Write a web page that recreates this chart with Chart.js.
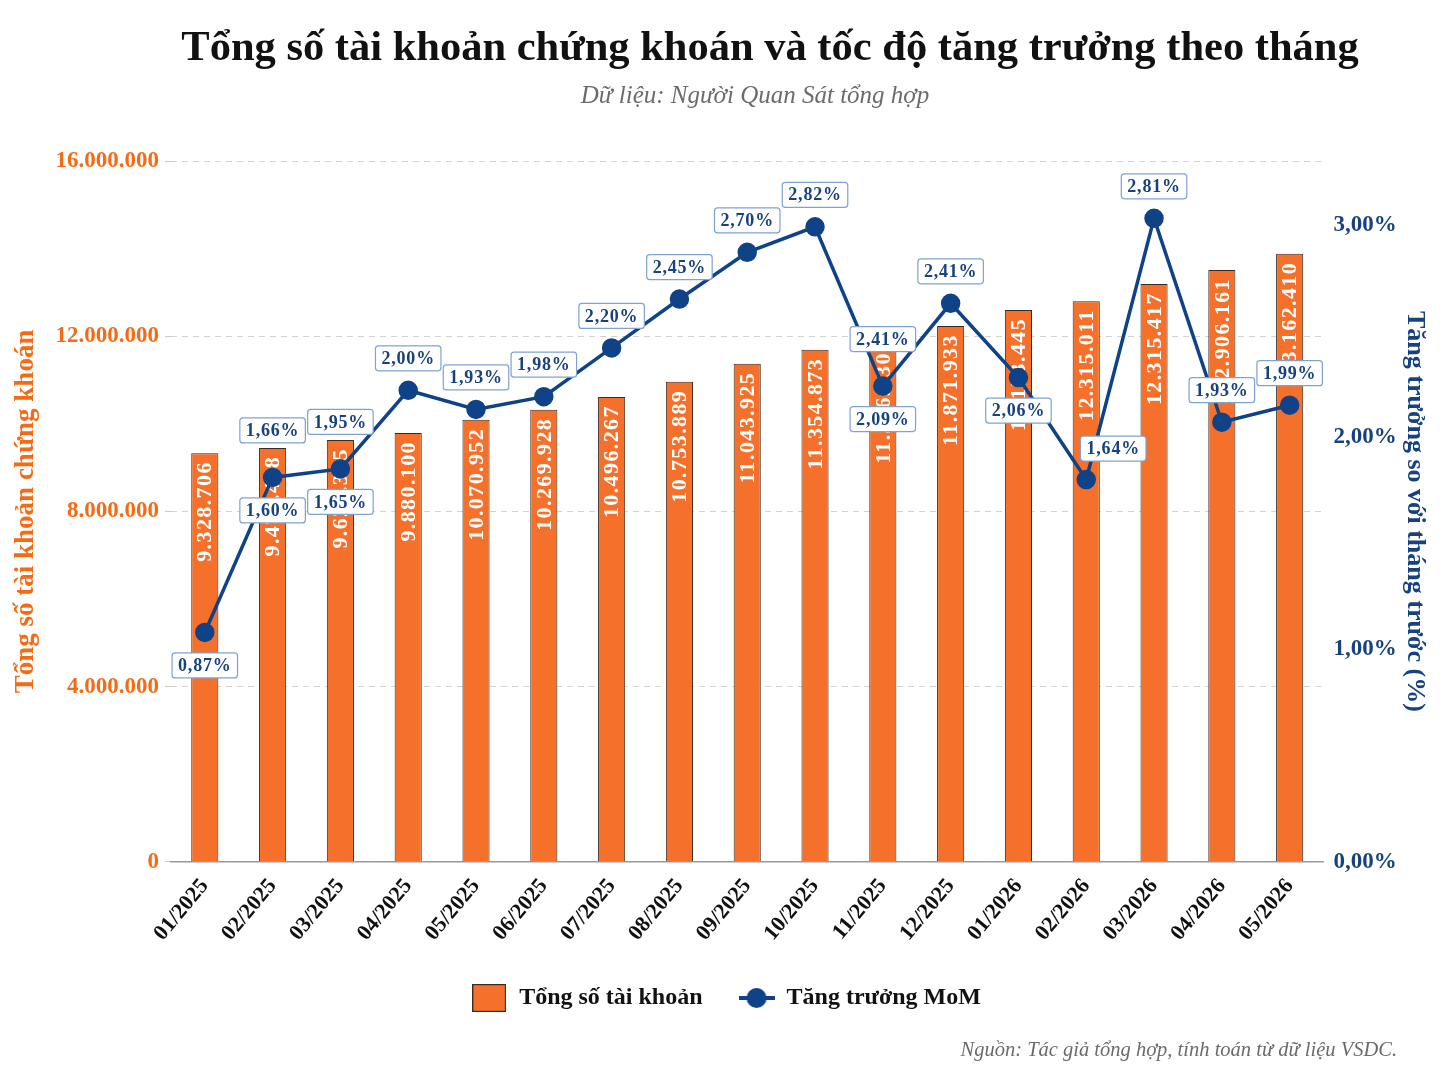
<!DOCTYPE html>
<html>
<head>
<meta charset="utf-8">
<script src="https://cdn.jsdelivr.net/npm/chart.js@4.4.1/dist/chart.umd.min.js"></script>
<style>
  html, body { margin: 0; padding: 0; background: #ffffff; }
  #wrap { width: 1448px; height: 1086px; position: relative; }
</style>
</head>
<body>
<div id="wrap"><canvas id="c" width="1448" height="1086"></canvas></div>
<script>
// ---------------- DATA ----------------
const categories = ['01/2025','02/2025','03/2025','04/2025','05/2025','06/2025','07/2025','08/2025','09/2025','10/2025','11/2025','12/2025','01/2026','02/2026','03/2026','04/2026','05/2026'];

const accountTotals = [9328706, 9450000, 9630000, 9790000, 10090000, 10320000, 10610000, 10960000, 11370000, 11690000, 11820000, 12230000, 12600000, 12800000, 13190000, 13510000, 13880000];

// Labels printed inside the bars (as shown in the picture)
const accountLabels = ['9.328.706','9.473.438','9.628.345','9.880.100','10.070.952','10.269.928','10.496.267','10.753.889','11.043.925','11.354.873','11.596.330','11.871.933','12.153.445','12.315.011','12.315.417','2.906.161','3.162.410'];

const growthMoM = [1.08, 1.81, 1.85, 2.22, 2.13, 2.19, 2.42, 2.65, 2.87, 2.99, 2.24, 2.63, 2.28, 1.80, 3.03, 2.07, 2.15];

// Labels printed next to the points (as shown in the picture)
const growthLabels = ['0,87%','1,60%','1,65%','2,00%','1,93%','1,98%','2,20%','2,45%','2,70%','2,82%','2,09%','2,41%','2,06%','1,64%','2,81%','1,93%','1,99%'];
const growthLabelsExtra = [null,'1,66%','1,95%',null,null,null,null,null,null,null,'2,41%',null,null,null,null,null,null];

// Left / right axis ranges and tick steps
const leftAxisMax = 16000000, leftAxisStep = 4000000;
const rightAxisMax = 3.3, rightAxisStep = 1;

// ---------------- STYLE ----------------
const SERIF = "'Liberation Serif','Times New Roman',serif";
const ORANGE = '#F5712B';
const ORANGE_TXT = '#F76A14';
const NAVY = '#0F4287';
const NAVY_TXT = '#17427E';
const labelPlacement = ['below','below','below','above','above','above','above','above','above','above','below','above','below','aboveRight','above','above','above'];

function fmtThousands(v) {
  return String(Math.round(v)).replace(/\B(?=(\d{3})+(?!\d))/g, '.');
}

function makeBoxIcon() {
  const c = document.createElement('canvas');
  c.width = 34; c.height = 28;
  const x = c.getContext('2d');
  x.fillStyle = ORANGE; x.fillRect(0, 0, 34, 28);
  x.strokeStyle = '#3b2a20'; x.lineWidth = 1.2; x.strokeRect(0.6, 0.6, 32.8, 26.8);
  return c;
}
function makeLineIcon() {
  const c = document.createElement('canvas');
  c.width = 36; c.height = 22;
  const x = c.getContext('2d');
  x.strokeStyle = NAVY; x.lineWidth = 4;
  x.beginPath(); x.moveTo(0, 11); x.lineTo(36, 11); x.stroke();
  x.fillStyle = NAVY; x.beginPath(); x.arc(18, 11, 10, 0, Math.PI * 2); x.fill();
  return c;
}
const boxIcon = makeBoxIcon();
const lineIcon = makeLineIcon();

const decorPlugin = {
  id: 'decor',
  beforeDraw(chart) {
    const ctx = chart.ctx;
    ctx.save();
    ctx.fillStyle = '#ffffff';
    ctx.fillRect(0, 0, chart.width, chart.height);
    ctx.restore();
  },
  afterDraw(chart) {
    const ctx = chart.ctx;
    ctx.save();
    ctx.textAlign = 'center';
    ctx.textBaseline = 'alphabetic';
    ctx.fillStyle = '#111111';
    ctx.font = `bold 42.5px ${SERIF}`;
    ctx.fillText('Tổng số tài khoản chứng khoán và tốc độ tăng trưởng theo tháng', 770, 60);
    ctx.fillStyle = '#6b6b6b';
    ctx.font = `italic 25px ${SERIF}`;
    ctx.fillText('Dữ liệu: Người Quan Sát tổng hợp', 755, 103);
    ctx.textAlign = 'right';
    ctx.font = `italic 20.5px ${SERIF}`;
    ctx.fillText('Nguồn: Tác giả tổng hợp, tính toán từ dữ liệu VSDC.', 1397, 1056);
    ctx.restore();
  }
};

function drawBox(ctx, cx, cy, text) {
  ctx.font = `bold 18px ${SERIF}`;
  ctx.letterSpacing = '0.8px';
  const w = ctx.measureText(text).width + 12;
  const h = 25;
  const x = cx - w / 2, y = cy - h / 2;
  ctx.beginPath();
  ctx.roundRect(x, y, w, h, 3);
  ctx.fillStyle = '#ffffff';
  ctx.fill();
  ctx.lineWidth = 1.2;
  ctx.strokeStyle = '#7FA3D1';
  ctx.stroke();
  ctx.fillStyle = NAVY_TXT;
  ctx.textAlign = 'center';
  ctx.textBaseline = 'middle';
  ctx.fillText(text, cx, cy + 1);
  ctx.letterSpacing = '0px';
}

const labelPlugin = {
  id: 'valueLabels',
  afterDatasetDraw(chart, args) {
    if (args.index !== 0) return;
    const ctx = chart.ctx;
    ctx.save();
    ctx.font = `bold 22px ${SERIF}`;
    ctx.letterSpacing = '1.4px';
    ctx.fillStyle = '#ffffff';
    ctx.textAlign = 'right';
    ctx.textBaseline = 'middle';
    args.meta.data.forEach((bar, i) => {
      ctx.save();
      ctx.translate(bar.x, bar.y + 8);
      ctx.rotate(-Math.PI / 2);
      ctx.fillText(accountLabels[i], 0, 1);
      ctx.restore();
    });
    ctx.letterSpacing = '0px';
    ctx.restore();
  },
  afterDatasetsDraw(chart) {
    const ctx = chart.ctx;
    const meta = chart.getDatasetMeta(1);
    ctx.save();
    meta.data.forEach((pt, i) => {
      const p = labelPlacement[i];
      let dx = 0, dy = -32;
      if (p === 'below') dy = 33;
      if (p === 'aboveRight') { dx = 27; dy = -31; }
      drawBox(ctx, pt.x + dx, pt.y + dy, growthLabels[i]);
      if (growthLabelsExtra[i]) drawBox(ctx, pt.x, pt.y - 47, growthLabelsExtra[i]);
    });
    ctx.restore();
  }
};

new Chart(document.getElementById('c'), {
  data: {
    labels: categories,
    datasets: [
      {
        type: 'bar',
        label: 'Tổng số tài khoản',
        data: accountTotals,
        backgroundColor: ORANGE,
        borderColor: '#3b2a20',
        borderWidth: 1,
        categoryPercentage: 0.8,
        barPercentage: 0.5,
        yAxisID: 'y',
        order: 2
      },
      {
        type: 'line',
        label: 'Tăng trưởng MoM',
        data: growthMoM,
        borderColor: NAVY,
        backgroundColor: NAVY,
        borderWidth: 3.5,
        pointRadius: 8,
        pointHoverRadius: 8,
        pointBackgroundColor: NAVY,
        pointBorderColor: NAVY,
        tension: 0,
        yAxisID: 'y1',
        order: 1
      }
    ]
  },
  options: {
    responsive: false,
    animation: false,
    devicePixelRatio: 1,
    layout: { padding: { top: 161, left: 8, right: 4, bottom: 66 } },
    plugins: {
      title: { display: false },
      tooltip: { enabled: false },
      legend: {
        position: 'bottom',
        labels: {
          usePointStyle: true,
          pointStyleWidth: 36,
          boxHeight: 22,
          padding: 36,
          color: '#111',
          font: { family: SERIF, size: 24, weight: 'bold' },
          generateLabels(chart) {
            const items = Chart.defaults.plugins.legend.labels.generateLabels(chart);
            items.sort((a, b) => a.datasetIndex - b.datasetIndex);
            items.forEach(it => { it.pointStyle = it.datasetIndex === 0 ? boxIcon : lineIcon; });
            return items;
          }
        }
      }
    },
    scales: {
      x: {
        offset: true,
        grid: { display: false },
        border: { display: true, color: '#9a9a9a', width: 1.5 },
        ticks: {
          color: '#111',
          font: { family: SERIF, size: 22, weight: 'bold' },
          maxRotation: 50, minRotation: 50, autoSkip: false, padding: 4
        }
      },
      y: {
        position: 'left',
        min: 0, max: leftAxisMax,
        grid: { color: '#d3d3d3', lineWidth: 1, drawTicks: true, tickLength: 6, tickColor: '#c8c8c8' },
        border: { display: false, dash: [6, 5] },
        ticks: {
          stepSize: leftAxisStep,
          color: ORANGE_TXT,
          font: { family: SERIF, size: 23, weight: 'bold' },
          padding: 6,
          callback: v => fmtThousands(v)
        },
        title: {
          display: true,
          text: 'Tổng số tài khoản chứng khoán',
          color: ORANGE_TXT,
          font: { family: SERIF, size: 27, weight: 'bold' },
          padding: { top: 2, bottom: 7 }
        }
      },
      y1: {
        position: 'right',
        min: 0, max: rightAxisMax,
        grid: { display: false, drawOnChartArea: false },
        border: { display: false },
        ticks: {
          stepSize: rightAxisStep,
          includeBounds: false,
          color: NAVY_TXT,
          font: { family: SERIF, size: 23, weight: 'bold' },
          padding: 2,
          callback: v => v.toFixed(2).replace('.', ',') + '%'
        },
        title: {
          display: true,
          text: 'Tăng trưởng so với tháng trước (%)',
          color: NAVY_TXT,
          font: { family: SERIF, size: 26, weight: 'bold' },
          padding: { top: 14, bottom: 0 }
        }
      }
    }
  },
  plugins: [decorPlugin, labelPlugin]
});
</script>
</body>
</html>
